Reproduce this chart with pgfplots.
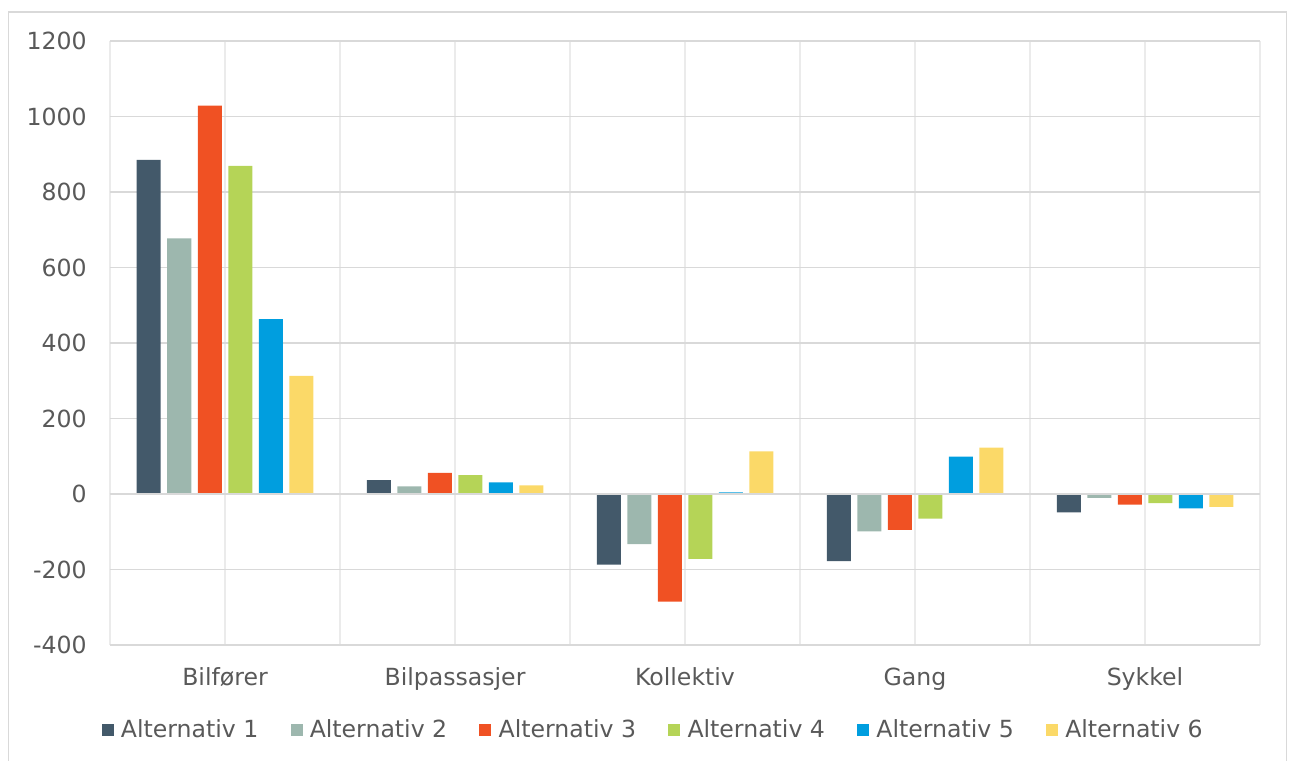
\documentclass[border=0pt]{standalone}
\usepackage{fontspec}
\setmainfont{DejaVu Sans}
\usepackage{pgfplots}
\pgfplotsset{compat=1.18}
\definecolor{c1}{HTML}{43596A}
\definecolor{c2}{HTML}{9DB7AE}
\definecolor{c3}{HTML}{F05123}
\definecolor{c4}{HTML}{B5D457}
\definecolor{c5}{HTML}{009EDF}
\definecolor{c6}{HTML}{FBD968}
\definecolor{txt}{HTML}{595959}
\definecolor{hgrid}{HTML}{D9D9D9}
\definecolor{vgrid}{HTML}{EBEBEB}
\begin{document}
\begin{tikzpicture}[x=1pt,y=1pt]
\useasboundingbox (0,0) rectangle (647,380);
\draw[hgrid, line width=0.75pt] (4.2,-2) -- (4.2,374) -- (643.3,374) -- (643.3,-2);
\begin{axis}[
  at={(55pt,57.5pt)}, anchor=south west, scale only axis,
  width=575pt, height=302pt,
  ybar=3.25pt, bar width=12pt,
  xmin=-0.5, xmax=4.5, ymin=-400, ymax=1200,
  xtick={0,1,2,3,4},
  xticklabels={Bilfører,Bilpassasjer,Kollektiv,Gang,Sykkel},
  minor xtick={-0.5,0.5,1.5,2.5,3.5,4.5},
  ytick={-400,-200,0,200,400,600,800,1000,1200},
  yticklabels={-400,-200,0,200,400,600,800,1000,1200},
  major tick length=0pt, minor tick length=0pt,
  axis line style={draw=none},
  xmajorgrids, xminorgrids, ymajorgrids,
  major x grid style={vgrid, line width=0.75pt},
  minor x grid style={vgrid, line width=0.75pt},
  major y grid style={hgrid, line width=0.75pt},
  every tick label/.append style={font=\fontsize{11.8pt}{14pt}\selectfont, text=txt, inner sep=0pt},
  yticklabel style={anchor=east, xshift=-11.5pt},
  xticklabel style={anchor=base, yshift=-20pt},
  legend columns=6,
  legend style={at={(0.4715,-0.1407)}, anchor=center, draw=none, fill=none,
    font=\fontsize{11.8pt}{14pt}\selectfont, text=txt,
    nodes={inner sep=0pt},
    /tikz/every odd column/.append style={column sep=3.6pt},
    /tikz/every even column/.append style={column sep=16.1pt}},
  legend cell align=left,
  legend image code/.code={\fill[#1] (0pt,-3.2pt) rectangle (6pt,3.2pt);},
]
\addplot[fill=c1, draw=none] coordinates {(0,885) (1,37) (2,-187) (3,-178) (4,-49)};
\addplot[fill=c2, draw=none] coordinates {(0,677) (1,20) (2,-133) (3,-99) (4,-10)};
\addplot[fill=c3, draw=none] coordinates {(0,1029) (1,56) (2,-285) (3,-95) (4,-28)};
\addplot[fill=c4, draw=none] coordinates {(0,869) (1,50) (2,-172) (3,-65) (4,-24)};
\addplot[fill=c5, draw=none] coordinates {(0,463) (1,31) (2,4) (3,99) (4,-38)};
\addplot[fill=c6, draw=none] coordinates {(0,313) (1,23) (2,113) (3,123) (4,-34)};
\legend{Alternativ 1,Alternativ 2,Alternativ 3,Alternativ 4,Alternativ 5,Alternativ 6}
\draw[hgrid, line width=1pt] (axis cs:-0.5,0) -- (axis cs:4.5,0);
\end{axis}
\end{tikzpicture}
\end{document}
